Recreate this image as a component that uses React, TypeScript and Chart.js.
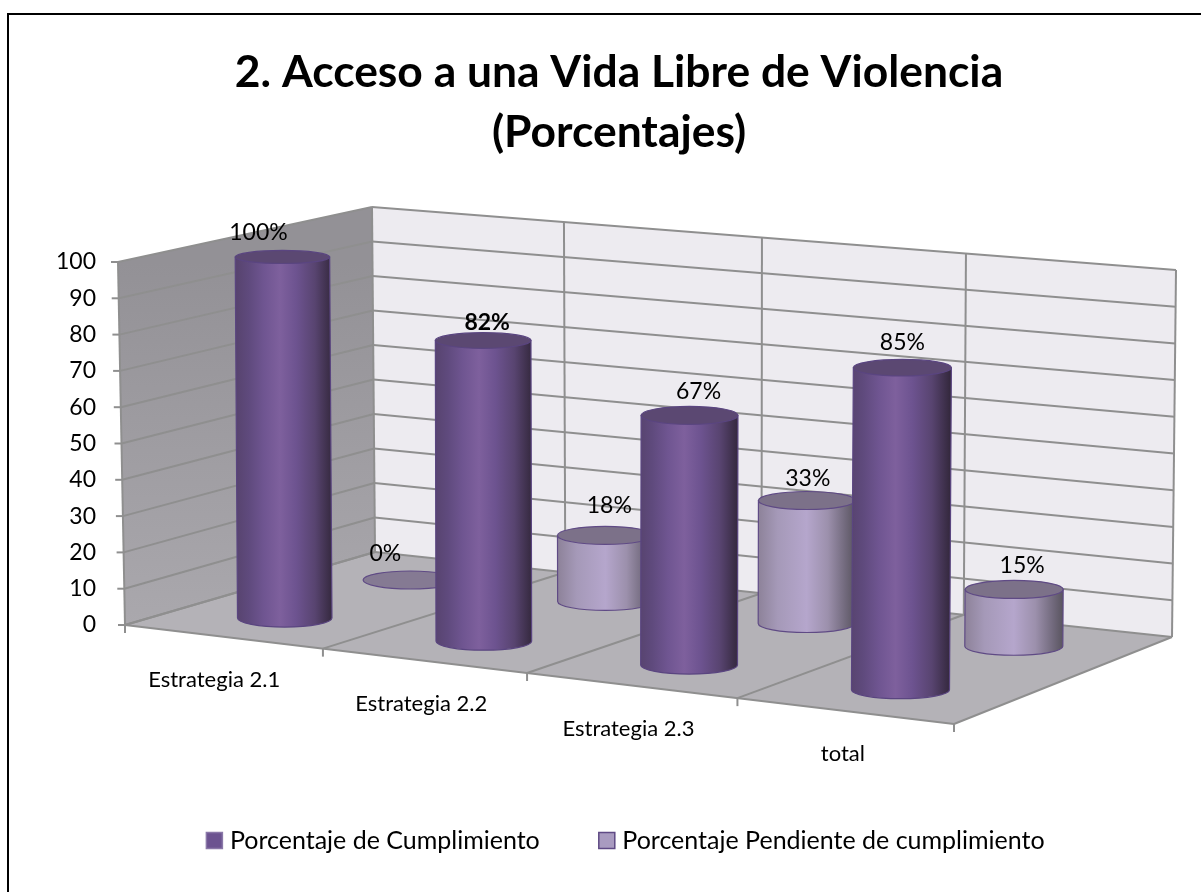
import React, { useEffect, useRef } from "react";
import { Chart, registerables } from "chart.js";

Chart.register(...registerables);

const categories = ["Estrategia 2.1", "Estrategia 2.2", "Estrategia 2.3", "total"];
const cumplimiento = [100, 82, 67, 85];
const pendiente = [0, 18, 33, 15];
const seriesNames = ["Porcentaje de Cumplimiento", "Porcentaje Pendiente de cumplimiento"];
const titleLines = ["2. Acceso a una Vida Libre de Violencia", "(Porcentajes)"];

const FONT = "Lato, Carlito, Calibri, sans-serif";
const AXIS_PX = 22;
const VALUE_PX = 23;
const LEGEND_PX = 25;
const LEFT_AREA = 125, RIGHT_AREA = 954, TOP_AREA = 262, BOTTOM_AREA = 625;

// perspective of the 3D box
const GEO = {
  backLeft: { x: 375, y: 552 },
  backRight: { x: 1172, y: 637 },
  lean: { wallLeftTop: 118, backLeftTop: { x: 372, y: 207 }, backRightTop: { x: 1176, y: 270 } },
  depth: [0.25, 0.76],
};
const warp = (t: number) => t * (0.94 + 0.06 * t);
const lerp = (a: number, b: number, k: number) => a + (b - a) * k;

const STYLE = [
  {
    stops: [[0, "#584470"], [0.12, "#5f4a7d"], [0.28, "#6f5591"], [0.45, "#7e609d"], [0.62, "#6d5390"], [0.82, "#584470"], [1, "#35293f"]],
    top: "#5b4872",
    line: "#5a4580",
  },
  {
    stops: [[0, "#8d8299"], [0.2, "#a599b8"], [0.5, "#b5a6cc"], [0.72, "#9c90ac"], [0.9, "#71697c"], [1, "#5a5560"]],
    top: "#7c7189",
    line: "#5f4a85",
  },
];
const LABEL_NUDGE = [
  [{ x: -24, y: -24, bold: false }, { x: 4, y: -18, bold: true }, { x: 9, y: -24, bold: false }, { x: 0, y: -25, bold: false }],
  [{ x: -25, y: -26, bold: false }, { x: 4, y: -30, bold: false }, { x: 1, y: -22, bold: false }, { x: 8, y: -24, bold: false }],
];
const AXIS_LABEL_NUDGE = [-9, -3, -3, -2];

function floorPoint(tx: number, d: number, area: any) {
  const w = warp(tx);
  const fx = area.left + (area.right - area.left) * w;
  const fy = area.bottom + 99 * w;
  const bx = lerp(GEO.backLeft.x, GEO.backRight.x, w);
  const by = lerp(GEO.backLeft.y, GEO.backRight.y, w);
  return { x: lerp(fx, bx, d), y: lerp(fy, by, d), w };
}

function tops(el: any, dsIndex: number, chart: any) {
  const area = chart.chartArea;
  const t = (el.x - area.left) / (area.right - area.left);
  const p = floorPoint(t, GEO.depth[dsIndex], area);
  const h = (el.base - el.y) * (0.987 + 0.065 * p.w);
  const rx = (el.width / 2) * (0.985 + 0.05 * p.w);
  const frac = (el.base - el.y) / (area.bottom - area.top);
  const topX = p.x + (p.w - 0.5) * 6 * frac;
  const topY = p.y - h;
  return { p, h, rx, topX, topY };
}

const box3d = {
  id: "box3d",
  beforeDatasetsDraw(chart: any) {
    const { ctx, chartArea: area, scales } = chart;
    const y = scales.y;
    const y0 = y.getPixelForValue(0);
    const y100 = y.getPixelForValue(100);
    const fr = (v: number) => (y0 - y.getPixelForValue(v)) / (y0 - y100);
    const L = (v: number) => ({ x: lerp(area.left, GEO.lean.wallLeftTop, fr(v)), y: y.getPixelForValue(v) });
    const B = (v: number) => ({ x: lerp(GEO.backLeft.x, GEO.lean.backLeftTop.x, fr(v)), y: lerp(GEO.backLeft.y, GEO.lean.backLeftTop.y, fr(v)) });
    const R = (v: number) => ({ x: lerp(GEO.backRight.x, GEO.lean.backRightTop.x, fr(v)), y: lerp(GEO.backRight.y, GEO.lean.backRightTop.y, fr(v)) });
    const poly = (pts: any[]) => {
      ctx.beginPath();
      pts.forEach((p, i) => (i ? ctx.lineTo(p.x, p.y) : ctx.moveTo(p.x, p.y)));
      ctx.closePath();
    };
    const seg = (a: any, b: any) => {
      ctx.beginPath();
      ctx.moveTo(a.x, a.y);
      ctx.lineTo(b.x, b.y);
      ctx.stroke();
    };
    ctx.save();
    const lg = ctx.createLinearGradient(0, y100, 0, y0);
    lg.addColorStop(0, "#939196");
    lg.addColorStop(1, "#aaa8ad");
    poly([L(0), L(100), B(100), B(0)]);
    ctx.fillStyle = lg;
    ctx.fill();
    poly([B(0), B(100), R(100), R(0)]);
    ctx.fillStyle = "#edebf0";
    ctx.fill();
    const fl = floorPoint(1, 0, area);
    poly([L(0), B(0), R(0), fl]);
    ctx.fillStyle = "#b4b2b7";
    ctx.fill();

    ctx.strokeStyle = "#8f8f8f";
    ctx.lineWidth = 2;
    y.ticks.forEach((tk: any) => {
      seg(L(tk.value), B(tk.value));
      seg(B(tk.value), R(tk.value));
      const l = L(tk.value);
      seg({ x: l.x - 7, y: l.y }, l);
    });
    seg(L(0), L(100));
    const n = chart.data.labels.length;
    for (let k = 0; k <= n; k++) {
      const t = k / n;
      const f = floorPoint(t, 0, area);
      const b = floorPoint(t, 1, area);
      seg(f, b);
      seg(f, { x: f.x, y: f.y + 8 });
      const w = warp(t);
      const top = { x: lerp(B(100).x, R(100).x, w), y: lerp(B(100).y, R(100).y, w) };
      seg(b, top);
    }
    seg(floorPoint(0, 0, area), floorPoint(1, 0, area));
    ctx.restore();
  },
  beforeDatasetDraw(chart: any, args: any) {
    const { ctx } = chart;
    const st = STYLE[args.index];
    args.meta.data.forEach((el: any) => {
      const { p, rx, topX, topY } = tops(el, args.index, chart);
      const ryTop = el.base === el.y ? 9 : Math.min(9, 6.5 + Math.max(0, topY - 256) * 0.016);
      ctx.save();
      if (el.base - el.y > 0.5) {
        const g = ctx.createLinearGradient(p.x - rx, 0, p.x + rx, 0);
        st.stops.forEach((s: any) => g.addColorStop(s[0], s[1]));
        ctx.beginPath();
        ctx.moveTo(topX - rx, topY);
        ctx.lineTo(p.x - rx, p.y);
        ctx.ellipse(p.x, p.y, rx, 9, 0, Math.PI, 0, true);
        ctx.lineTo(topX + rx, topY);
        ctx.closePath();
        ctx.fillStyle = g;
        ctx.fill();
        ctx.strokeStyle = st.line;
        ctx.lineWidth = 1.2;
        ctx.stroke();
      }
      ctx.beginPath();
      ctx.ellipse(topX, topY, rx, ryTop, 0, 0, Math.PI * 2);
      ctx.fillStyle = el.base - el.y > 0.5 ? st.top : "#857a93";
      ctx.fill();
      ctx.strokeStyle = st.line;
      ctx.lineWidth = 1.2;
      ctx.stroke();
      ctx.restore();
    });
    return false;
  },
  afterDatasetsDraw(chart: any) {
    const { ctx, chartArea: area, data } = chart;
    ctx.save();
    ctx.fillStyle = "#000";
    ctx.textAlign = "center";
    ctx.textBaseline = "middle";
    data.datasets.forEach((ds: any, di: number) => {
      chart.getDatasetMeta(di).data.forEach((el: any, i: number) => {
        const { topX, topY } = tops(el, di, chart);
        const nudge = LABEL_NUDGE[di][i];
        ctx.font = `${nudge.bold ? "700 " : ""}${VALUE_PX}px ${FONT}`;
        ctx.fillText(`${ds.data[i]}%`, topX + nudge.x, topY + nudge.y);
      });
    });
    ctx.font = `${AXIS_PX}px ${FONT}`;
    const n = data.labels.length;
    data.labels.forEach((lab: string, i: number) => {
      const f = floorPoint((i + 0.5) / n, 0, area);
      ctx.fillText(lab, f.x + AXIS_LABEL_NUDGE[i], f.y + 43);
    });
    ctx.restore();
  },
  afterDraw(chart: any) {
    const { ctx, width, height } = chart;
    ctx.save();
    ctx.strokeStyle = "#000";
    ctx.lineWidth = 2;
    ctx.beginPath();
    ctx.moveTo(8, height);
    ctx.lineTo(8, 14);
    ctx.lineTo(width, 14);
    ctx.stroke();
    ctx.restore();
  },
  afterLayout(chart: any) {
    const lg = chart.legend;
    if (!lg) return;
    lg.left += 9;
    lg.right += 9;
    lg.top = 764;
    lg.bottom = 892;
  },
};

export default function App() {
  const ref = useRef<HTMLCanvasElement>(null);
  useEffect(() => {
    const chart = new Chart(ref.current as HTMLCanvasElement, {
      type: "bar",
      plugins: [box3d],
      data: {
        labels: categories,
        datasets: [
          { label: seriesNames[0], data: cumplimiento, backgroundColor: "#6c5390", borderColor: "#8a78a8", borderWidth: 1.5 },
          { label: seriesNames[1], data: pendiente, backgroundColor: "#a99bc0", borderColor: "#5f4a85", borderWidth: 1.5 },
        ],
      },
      options: {
        responsive: false,
        animation: false,
        layout: { padding: { left: 37, right: 0, top: 0, bottom: 0 } },
        datasets: { bar: { barPercentage: 0.46, categoryPercentage: 1 } },
        scales: {
          x: {
            stacked: true,
            ticks: { display: false },
            grid: { display: false },
            border: { display: false },
            afterFit: (s: any) => { s.height = 187; },
          },
          y: {
            min: 0,
            max: 100,
            ticks: { stepSize: 10, padding: 29, color: "#000", font: { family: FONT, size: VALUE_PX } },
            grid: { display: false, drawTicks: false },
            border: { display: false },
            afterFit: (s: any) => { s.width = LEFT_AREA - 37; },
          },
          yr: {
            position: "right",
            display: true,
            min: 0,
            max: 100,
            ticks: { display: false },
            grid: { display: false, drawTicks: false },
            border: { display: false },
            afterFit: (s: any) => { s.width = 1201 - RIGHT_AREA; },
          },
        },
        plugins: {
          tooltip: { enabled: false },
          title: {
            display: true,
            text: titleLines,
            color: "#000",
            font: { family: FONT, size: 44.4, weight: "bold", lineHeight: 1.36 },
            padding: { top: 42, bottom: TOP_AREA - 42 - 2 * 44.4 * 1.36 },
          },
          legend: {
            position: "bottom",
            maxHeight: 80,
            labels: {
              color: "#000",
              padding: 64,
              usePointStyle: true,
              pointStyle: "rect",
              boxWidth: 6,
              boxHeight: 16,
              font: { family: FONT, size: LEGEND_PX },
            },
          },
        },
      },
    } as any);
    return () => chart.destroy();
  }, []);
  return (
    <canvas
      ref={ref}
      width={1201}
      height={892}
      style={{ position: "absolute", left: 0, top: 0, display: "block" }}
    />
  );
}
